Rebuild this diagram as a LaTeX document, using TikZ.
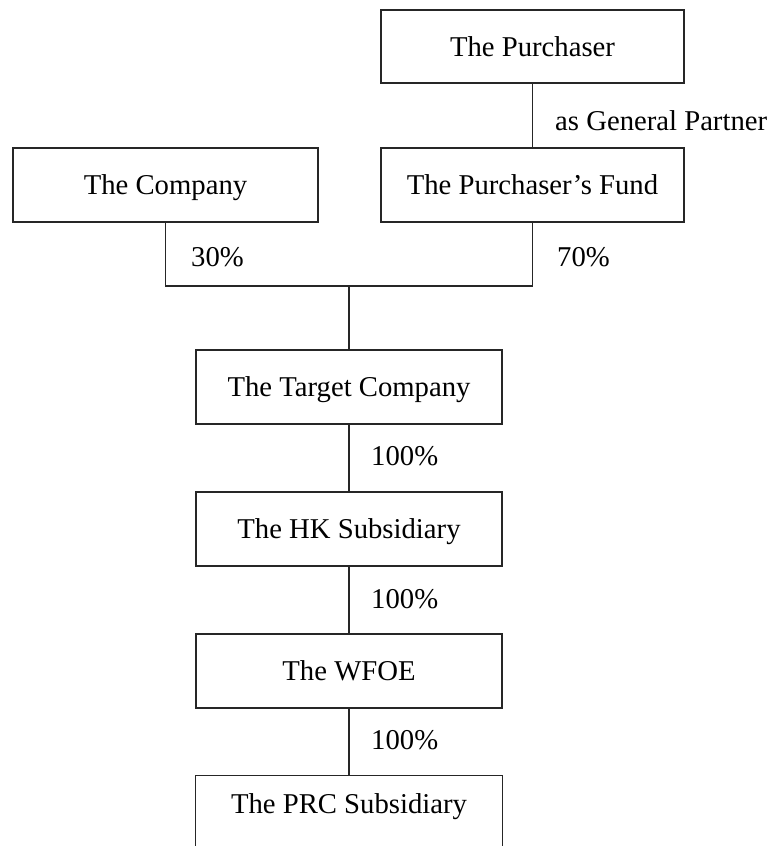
\documentclass[tikz,border=0pt]{standalone}
\usepackage{fontspec}
\setmainfont{Liberation Serif}
\begin{document}
\begin{tikzpicture}[x=1pt,y=-1pt,
  box/.style={draw=black!85, line width=1.1pt, minimum width=305pt, minimum height=74pt, inner sep=0pt, text height=19pt, text depth=0pt, font=\fontsize{28.7}{34}\selectfont},
  lbl/.style={anchor=base west, inner sep=0pt, font=\fontsize{28.7}{34}\selectfont},
  conn/.style={draw=black!85, line width=1.1pt}]
\useasboundingbox (0,0) rectangle (772,846);
\clip (0,0) rectangle (772,846);
\node[box, minimum width=303pt, minimum height=73pt] (purch) at (532.5,46.5) {The Purchaser};
\node[box] (company) at (165.5,185) {The Company};
\node[box, minimum width=303pt] (fund) at (532.5,185) {The Purchaser’s Fund};
\node[box, minimum width=306pt] (target) at (349,387) {The Target Company};
\node[box, minimum width=306pt] (hk) at (349,529) {The HK Subsidiary};
\node[box, minimum width=306pt] (wfoe) at (349,671) {The WFOE};
\node[box, draw=none, minimum width=306pt, minimum height=55pt] (prc) at (349,803.5) {The PRC Subsidiary};
\draw[conn] (prc.north west) ++(0,80) -- (prc.north west) -- (prc.north east) -- ++(0,80);
\coordinate (j) at (349,286);
\draw[conn] (purch) -- (fund);
\draw[conn] (company.south) |- (j) -| (fund.south);
\draw[conn] (j) -- (target);
\draw[conn] (target) -- (hk);
\draw[conn] (hk) -- (wfoe);
\draw[conn] (wfoe) -- (prc.north);
\node[lbl] (gp) at (555,130) {as General Partner};
\node[lbl] (p30) at (191,266) {30\%};
\node[lbl] (p70) at (557,266) {70\%};
\node[lbl] (l1) at (371,465) {100\%};
\node[lbl] (l2) at (371,608) {100\%};
\node[lbl] (l3) at (371,749) {100\%};
\end{tikzpicture}
\end{document}
